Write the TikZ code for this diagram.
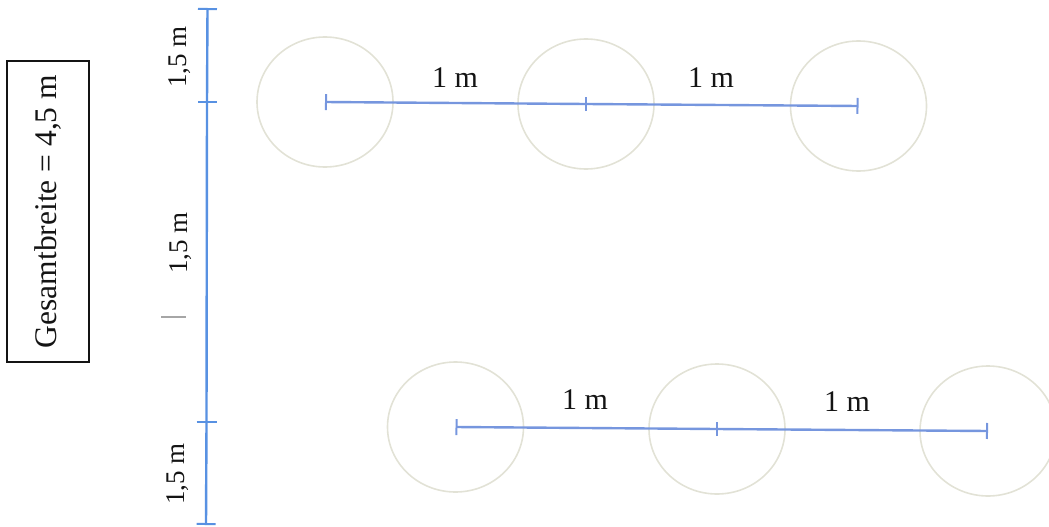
\documentclass[tikz,border=0pt]{standalone}
\usepackage{fontspec}
\setmainfont{Liberation Serif}
\usetikzlibrary{arrows.meta,shapes.geometric}
\definecolor{dimblue}{RGB}{118,150,222}
\definecolor{axisblue}{RGB}{88,145,226}
\definecolor{ringgray}{RGB}{226,226,214}
\definecolor{inkblack}{RGB}{20,20,20}
\tikzset{
  ring/.style={ellipse,draw=ringgray,line width=1.6pt,minimum width=136pt,minimum height=130pt,inner sep=0pt},
  dimline/.style={draw=dimblue,line width=2.4pt,{Bar[width=16pt,line width=2pt]}-{Bar[width=16pt,line width=2pt]}},
  dimtick/.style={draw=dimblue,line width=2pt},
  axisline/.style={draw=axisblue,line width=2.4pt,{Bar[width=19pt,line width=2pt]}-{Bar[width=19pt,line width=2pt]}},
  axistick/.style={draw=axisblue,line width=2pt},
  mlabel/.style={font=\fontsize{30}{32}\selectfont,text=inkblack,inner sep=0pt},
  vlabel/.style={font=\fontsize{27}{29}\selectfont,text=inkblack,rotate=90,inner sep=0pt},
  titlebox/.style={draw=inkblack,line width=1.3pt,rotate=90,minimum width=301pt,minimum height=82pt,font=\fontsize{31.5}{33}\selectfont,text=inkblack,inner sep=0pt}
}
\begin{document}
\begin{tikzpicture}[x=1pt,y=-1pt]
\useasboundingbox (0,0) rectangle (1049,527);
% title box
\node[titlebox] (title) at (48,211.5) {Gesamtbreite = 4,5 m};
% vertical axis
\coordinate (v0) at (207.5,8);
\coordinate (v1) at (207,102);
\coordinate (v2) at (206.5,422);
\coordinate (v3) at (206,525);
\draw[axisline] (v0) -- (v1) -- (v2) -- (v3);
\draw[axistick] ([xshift=-9pt]v1) -- ([xshift=10pt]v1);
\draw[axistick] ([xshift=-10pt]v2) -- ([xshift=10pt]v2);
\node[vlabel] (la) at (180,57) {1,5 m};
\node[vlabel] (lb) at (181,243) {1,5 m};
\node[vlabel] (lc) at (178,474) {1,5 m};
\coordinate (g0) at (161,317);
\coordinate (g1) at (186,317);
\draw[gray!70,line width=1.2pt] (g0) -- (g1);
% top row
\node[ring] (t1) at (325,102) {};
\node[ring] (t2) at (586,104) {};
\node[ring] (t3) at (858.5,106) {};
\draw[dimline] (t1.center) -- (t2.center) -- (t3.center);
\draw[dimtick] ([yshift=-7pt]t2.center) -- ([yshift=7pt]t2.center);
\node[mlabel] (tm1) at (455,78) {1 m};
\node[mlabel] (tm2) at (711,78) {1 m};
% bottom row
\node[ring] (b1) at (455.5,427) {};
\node[ring] (b2) at (717,429) {};
\node[ring] (b3) at (988,431) {};
\draw[dimline] (b1.center) -- (b2.center) -- (b3.center);
\draw[dimtick] ([yshift=-7pt]b2.center) -- ([yshift=7pt]b2.center);
\node[mlabel] (bm1) at (585,400) {1 m};
\node[mlabel] (bm2) at (847,402) {1 m};
\end{tikzpicture}
\end{document}
